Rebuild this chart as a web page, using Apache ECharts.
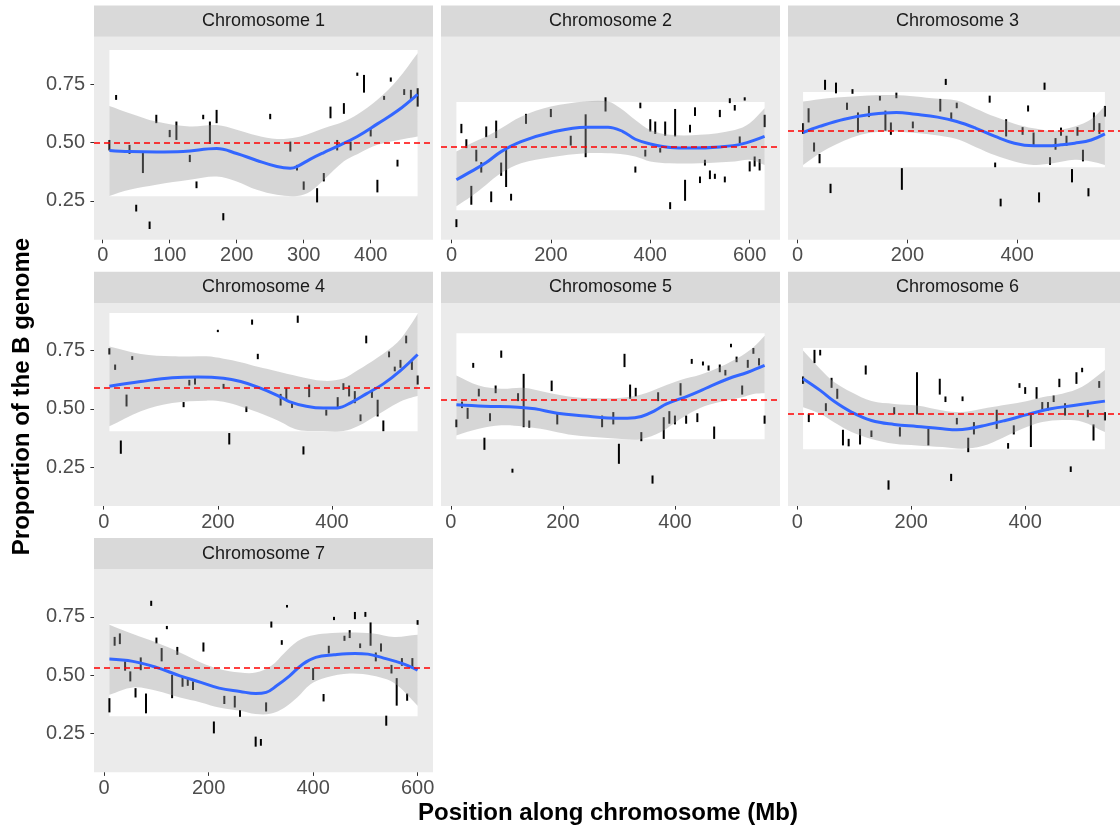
<!DOCTYPE html>
<html lang="en">
<head>
    <meta charset="UTF-8">
    <title>Proportion of the B genome</title>
    <script src="https://cdn.jsdelivr.net/npm/echarts@6.0.0/dist/echarts.min.js"></script>
    <style>html, body { margin: 0; padding: 0; background: #fff; }</style>
</head>
<body>
    <div id="chart" style="width: 1120px; height: 829px;"></div>
    <script>
        // panel titles and tick labels
        const panelNames = ['Chromosome 1', 'Chromosome 2', 'Chromosome 3', 'Chromosome 4',
                            'Chromosome 5', 'Chromosome 6', 'Chromosome 7'];
        const xTicks = [[0, 100, 200, 300, 400], [0, 200, 400, 600], [0, 200, 400],
                        [0, 200, 400], [0, 200, 400], [0, 200, 400], [0, 200, 400, 600]];
        const yTicks = [0.25, 0.5, 0.75];

        // genome-wide mean (red dashed line) and the white box per chromosome
        const genomeMean = [0.50, 0.476, 0.551, 0.59, 0.539, 0.481, 0.53];
        const boxLow  = [0.269, 0.209, 0.394, 0.404, 0.369, 0.327, 0.323];
        const boxHigh = [0.897, 0.674, 0.717, 0.911, 0.824, 0.761, 0.719];

        // windows: [position Mb, low, high]
        const seg1 = [[10,0.466,0.511],[20,0.683,0.704],[40,0.451,0.49],[50,0.204,0.233],[60,0.369,0.461],[70,0.129,0.161],[80,0.583,0.619],[100,0.523,0.554],[110,0.511,0.59],[130,0.416,0.447],[140,0.304,0.333],[150,0.6,0.619],[160,0.494,0.59],[170,0.583,0.64],[180,0.166,0.197],[250,0.6,0.623],[280,0.461,0.504],[290,0.38,0.404],[300,0.297,0.333],[320,0.243,0.304],[330,0.333,0.369],[340,0.604,0.654],[350,0.466,0.511],[360,0.623,0.669],[370,0.466,0.504],[380,0.786,0.8],[390,0.714,0.79],[400,0.526,0.557],[410,0.286,0.34],[420,0.683,0.7],[430,0.761,0.779],[440,0.397,0.426],[450,0.704,0.729],[460,0.686,0.726],[470,0.654,0.733]];
        const seg2 = [[10,0.137,0.171],[20,0.54,0.58],[30,0.476,0.514],[40,0.233,0.314],[50,0.419,0.469],[60,0.371,0.416],[70,0.523,0.569],[80,0.244,0.29],[90,0.519,0.594],[100,0.357,0.414],[110,0.309,0.469],[120,0.251,0.28],[150,0.58,0.623],[200,0.609,0.644],[240,0.487,0.529],[270,0.437,0.621],[310,0.633,0.694],[370,0.371,0.397],[380,0.647,0.671],[390,0.44,0.469],[400,0.547,0.6],[410,0.537,0.59],[420,0.457,0.476],[430,0.529,0.59],[440,0.214,0.244],[450,0.526,0.644],[470,0.25,0.34],[480,0.543,0.576],[490,0.614,0.651],[500,0.326,0.354],[510,0.401,0.426],[520,0.343,0.38],[530,0.344,0.366],[540,0.609,0.64],[550,0.329,0.354],[560,0.669,0.69],[570,0.637,0.661],[580,0.497,0.526],[590,0.68,0.694],[600,0.376,0.419],[610,0.397,0.44],[620,0.38,0.429],[630,0.566,0.619]];
        const seg3 = [[10,0.537,0.583],[20,0.586,0.647],[30,0.461,0.5],[40,0.411,0.451],[50,0.726,0.769],[60,0.283,0.323],[70,0.711,0.757],[90,0.64,0.671],[100,0.709,0.729],[110,0.543,0.629],[130,0.609,0.657],[150,0.68,0.7],[160,0.551,0.637],[170,0.533,0.586],[180,0.69,0.714],[190,0.297,0.39],[210,0.561,0.59],[260,0.633,0.687],[270,0.747,0.773],[280,0.594,0.629],[290,0.647,0.671],[350,0.671,0.701],[360,0.394,0.414],[370,0.226,0.259],[380,0.526,0.6],[410,0.533,0.566],[420,0.633,0.659],[430,0.483,0.543],[440,0.243,0.286],[450,0.726,0.757],[460,0.404,0.437],[470,0.469,0.519],[480,0.529,0.564],[490,0.486,0.529],[500,0.329,0.386],[510,0.529,0.566],[520,0.419,0.469],[530,0.269,0.304],[540,0.551,0.629],[550,0.537,0.583],[560,0.611,0.657]];
        const seg4 = [[10,0.733,0.76],[20,0.667,0.69],[30,0.307,0.364],[40,0.51,0.561],[50,0.71,0.726],[140,0.507,0.529],[150,0.6,0.624],[160,0.604,0.64],[200,0.829,0.839],[210,0.586,0.607],[220,0.347,0.396],[250,0.486,0.51],[260,0.861,0.883],[270,0.713,0.736],[310,0.514,0.564],[320,0.536,0.59],[330,0.504,0.524],[340,0.869,0.9],[350,0.304,0.339],[360,0.55,0.604],[390,0.471,0.496],[410,0.504,0.55],[420,0.581,0.61],[430,0.553,0.6],[440,0.524,0.576],[450,0.447,0.476],[460,0.781,0.814],[470,0.547,0.576],[480,0.467,0.539],[490,0.404,0.45],[500,0.721,0.746],[510,0.661,0.681],[520,0.676,0.71],[530,0.781,0.814],[540,0.667,0.704],[550,0.604,0.643]];
        const seg5 = [[10,0.421,0.454],[20,0.503,0.531],[30,0.457,0.504],[40,0.676,0.697],[50,0.553,0.586],[60,0.324,0.376],[70,0.447,0.481],[80,0.567,0.6],[90,0.719,0.75],[110,0.226,0.243],[120,0.533,0.567],[130,0.421,0.65],[140,0.419,0.45],[180,0.576,0.621],[190,0.433,0.486],[270,0.421,0.471],[290,0.433,0.486],[300,0.264,0.35],[310,0.679,0.736],[320,0.543,0.604],[330,0.553,0.59],[340,0.361,0.4],[360,0.179,0.214],[370,0.533,0.571],[380,0.371,0.464],[390,0.436,0.49],[400,0.433,0.471],[410,0.557,0.61],[420,0.436,0.471],[430,0.693,0.714],[440,0.443,0.481],[450,0.686,0.703],[460,0.664,0.686],[470,0.371,0.424],[480,0.657,0.69],[490,0.643,0.667],[500,0.764,0.779],[510,0.7,0.724],[520,0.561,0.6],[530,0.676,0.71],[540,0.736,0.761],[550,0.686,0.717],[560,0.436,0.471]];
        const seg6 = [[10,0.607,0.639],[20,0.443,0.479],[30,0.696,0.753],[40,0.729,0.753],[50,0.49,0.524],[60,0.59,0.633],[70,0.543,0.586],[80,0.343,0.41],[90,0.339,0.371],[110,0.347,0.414],[120,0.647,0.686],[130,0.379,0.407],[160,0.153,0.193],[170,0.476,0.507],[180,0.381,0.421],[210,0.476,0.657],[230,0.343,0.414],[250,0.561,0.629],[260,0.529,0.553],[270,0.19,0.221],[280,0.433,0.461],[290,0.533,0.553],[300,0.314,0.376],[310,0.39,0.443],[350,0.414,0.496],[370,0.329,0.353],[380,0.39,0.429],[390,0.59,0.61],[400,0.564,0.593],[410,0.336,0.481],[420,0.543,0.593],[430,0.496,0.529],[440,0.493,0.529],[450,0.529,0.557],[460,0.593,0.629],[470,0.471,0.524],[480,0.229,0.253],[490,0.607,0.657],[500,0.657,0.676],[510,0.464,0.496],[520,0.364,0.433],[530,0.59,0.619],[540,0.45,0.486]];
        const seg7 = [[10,0.34,0.401],[20,0.626,0.664],[30,0.633,0.679],[40,0.519,0.559],[50,0.473,0.516],[60,0.404,0.444],[70,0.521,0.576],[80,0.336,0.421],[90,0.797,0.819],[100,0.636,0.661],[110,0.559,0.616],[120,0.697,0.711],[130,0.401,0.501],[140,0.587,0.621],[150,0.45,0.493],[160,0.454,0.487],[170,0.436,0.473],[190,0.601,0.64],[210,0.25,0.301],[230,0.376,0.411],[250,0.361,0.411],[260,0.321,0.35],[290,0.193,0.236],[300,0.197,0.226],[310,0.344,0.383],[320,0.704,0.73],[340,0.63,0.65],[350,0.79,0.801],[400,0.479,0.53],[420,0.387,0.419],[430,0.593,0.626],[440,0.736,0.75],[460,0.647,0.669],[470,0.659,0.693],[480,0.74,0.771],[490,0.616,0.636],[500,0.75,0.771],[510,0.626,0.726],[520,0.559,0.597],[530,0.601,0.636],[540,0.283,0.326],[550,0.507,0.544],[560,0.369,0.487],[570,0.54,0.573],[580,0.39,0.421],[590,0.53,0.573],[600,0.716,0.736]];

        // loess fit: [position, fit]
        const fit1 = [[10,0.466],[40,0.461],[80,0.459],[120,0.461],[170,0.474],[200,0.453],[230,0.423],[260,0.397],[280,0.39],[290,0.397],[310,0.429],[330,0.457],[350,0.483],[380,0.526],[410,0.58],[440,0.636],[470,0.707]];
        const fit2 = [[10,0.34],[40,0.376],[70,0.414],[100,0.461],[140,0.504],[200,0.543],[270,0.566],[315,0.566],[345,0.547],[370,0.514],[400,0.494],[440,0.479],[480,0.476],[540,0.481],[585,0.494],[630,0.526]];
        const fit3 = [[10,0.543],[40,0.569],[85,0.6],[135,0.621],[180,0.629],[215,0.621],[255,0.609],[290,0.59],[325,0.561],[360,0.526],[395,0.497],[430,0.486],[455,0.486],[480,0.49],[505,0.497],[535,0.511],[560,0.537]];
        const fit4 = [[10,0.597],[65,0.617],[120,0.633],[165,0.636],[210,0.631],[240,0.617],[270,0.593],[305,0.557],[325,0.531],[355,0.511],[385,0.503],[410,0.504],[435,0.529],[460,0.564],[490,0.607],[520,0.664],[550,0.733]];
        const fit5 = [[10,0.517],[60,0.511],[120,0.507],[150,0.5],[190,0.481],[240,0.469],[280,0.461],[315,0.46],[340,0.467],[365,0.493],[385,0.521],[425,0.557],[460,0.593],[495,0.629],[530,0.657],[560,0.686]];
        const fit6 = [[10,0.629],[40,0.579],[65,0.531],[95,0.486],[130,0.45],[170,0.433],[210,0.424],[255,0.414],[280,0.41],[300,0.414],[330,0.429],[365,0.45],[405,0.476],[445,0.5],[485,0.514],[540,0.533]];
        const fit7 = [[10,0.569],[55,0.559],[100,0.533],[145,0.497],[185,0.469],[220,0.444],[260,0.43],[290,0.421],[310,0.426],[330,0.454],[355,0.497],[380,0.547],[405,0.576],[440,0.587],[480,0.593],[505,0.59],[535,0.573],[570,0.55],[600,0.521]];

        // confidence band: [position, lower, upper]
        const band1 = [[10,0.271,0.657],[40,0.297,0.626],[80,0.319,0.59],[130,0.34,0.569],[170,0.354,0.575],[200,0.333,0.555],[230,0.297,0.53],[260,0.276,0.515],[290,0.271,0.523],[310,0.29,0.54],[330,0.34,0.561],[360,0.42,0.59],[380,0.45,0.62],[410,0.49,0.683],[440,0.51,0.769],[470,0.526,0.883]];
        const band2 = [[10,0.226,0.461],[40,0.269,0.497],[70,0.319,0.526],[100,0.369,0.561],[140,0.411,0.611],[200,0.437,0.654],[270,0.454,0.676],[315,0.454,0.676],[340,0.451,0.647],[370,0.44,0.597],[400,0.419,0.554],[440,0.411,0.533],[500,0.411,0.533],[570,0.419,0.554],[600,0.426,0.583],[630,0.404,0.647]];
        const band3 = [[10,0.404,0.676],[55,0.474,0.69],[115,0.533,0.7],[165,0.547,0.704],[205,0.543,0.7],[245,0.533,0.69],[290,0.515,0.68],[325,0.48,0.645],[360,0.445,0.61],[395,0.419,0.581],[430,0.404,0.561],[465,0.411,0.551],[505,0.426,0.569],[535,0.419,0.6],[560,0.404,0.657]];
        const band4 = [[10,0.425,0.767],[65,0.49,0.735],[120,0.525,0.725],[180,0.535,0.725],[210,0.53,0.715],[240,0.51,0.7],[270,0.485,0.68],[305,0.45,0.66],[340,0.41,0.64],[385,0.405,0.62],[420,0.405,0.63],[445,0.425,0.665],[480,0.475,0.72],[515,0.525,0.786],[535,0.545,0.85],[550,0.555,0.907]];
        const band5 = [[10,0.386,0.643],[50,0.414,0.6],[90,0.429,0.586],[130,0.424,0.59],[170,0.41,0.571],[210,0.39,0.553],[255,0.379,0.546],[305,0.371,0.547],[340,0.371,0.561],[375,0.4,0.593],[410,0.457,0.624],[445,0.504,0.646],[480,0.529,0.679],[520,0.55,0.729],[540,0.564,0.764],[560,0.567,0.814]];
        const band6 = [[10,0.507,0.75],[40,0.479,0.671],[65,0.441,0.614],[95,0.401,0.571],[130,0.371,0.533],[170,0.35,0.521],[210,0.343,0.514],[255,0.336,0.493],[290,0.329,0.486],[325,0.34,0.5],[360,0.375,0.515],[395,0.414,0.529],[430,0.443,0.55],[465,0.452,0.565],[500,0.445,0.595],[540,0.4,0.667]];
        const band7 = [[10,0.416,0.716],[55,0.447,0.676],[100,0.433,0.64],[145,0.404,0.597],[185,0.383,0.554],[220,0.361,0.526],[260,0.347,0.511],[290,0.333,0.511],[320,0.335,0.54],[345,0.36,0.595],[370,0.405,0.645],[395,0.461,0.669],[425,0.49,0.679],[470,0.507,0.683],[515,0.497,0.679],[555,0.466,0.664],[600,0.369,0.673]];

        const segs = [seg1, seg2, seg3, seg4, seg5, seg6, seg7];
        const fits = [fit1, fit2, fit3, fit4, fit5, fit6, fit7];
        const bands = [band1, band2, band3, band4, band5, band6, band7];

        // layout (pixels)
        const FONT = '"Liberation Sans", Arial, sans-serif';
        const colLeft = [94, 441, 788];
        const rowTop = [36.7, 303, 569.3];
        const panelW = 339, panelH = 203, stripH = 31.2;
        const yMin = 0.083, yMax = 0.954;

        var myChart = echarts.init(document.getElementById('chart'), null, { renderer: 'canvas' });

        // white box
        function boxItem(params, api) {
            const a = api.coord([api.value(0), api.value(3)]);
            const b = api.coord([api.value(1), api.value(2)]);
            return {
                type: 'rect',
                shape: { x: a[0], y: a[1], width: b[0] - a[0], height: b[1] - a[1] },
                style: { fill: '#FFFFFF' }
            };
        }

        // vertical window segment
        function segItem(params, api) {
            const p0 = api.coord([api.value(0), api.value(1)]);
            const p1 = api.coord([api.value(0), api.value(2)]);
            return {
                type: 'line',
                shape: { x1: p0[0], y1: p0[1], x2: p1[0], y2: p1[1] },
                style: { stroke: '#000000', lineWidth: 2 }
            };
        }

        // confidence ribbon drawn as one smoothed polygon (corners doubled so the ends stay straight)
        function ribbonItem(params, api) {
            if (params.dataIndexInside !== 0) return null;
            const n = params.dataInsideLength;
            const up = [], lo = [];
            for (let k = 0; k < n; k++) {
                const x = api.value(0, k);
                up.push(api.coord([x, api.value(2, k)]));
                lo.push(api.coord([x, api.value(1, k)]));
            }
            lo.reverse();
            const pts = [up[0]].concat(up).concat([up[n - 1], lo[0]]).concat(lo).concat([lo[n - 1]]);
            return {
                type: 'polygon',
                shape: { points: pts, smooth: 0.35 },
                style: { fill: 'rgba(153,153,153,0.4)' }
            };
        }

        const grid = [], xAxis = [], yAxis = [], series = [], graphic = [];

        panelNames.forEach((name, i) => {
            const col = i % 3, row = Math.floor(i / 3);
            const left = colLeft[col], top = rowTop[row];
            const xs = segs[i].map(d => d[0]);
            const xLo = Math.min(...xs), xHi = Math.max(...xs);
            const pad = (xHi - xLo) * 0.05;

            grid.push({
                left: left, top: top, width: panelW, height: panelH,
                show: true, backgroundColor: '#EBEBEB', borderWidth: 0
            });

            xAxis.push({
                type: 'value', gridIndex: i, min: xLo - pad, max: xHi + pad,
                axisLine: { show: false, onZero: false },
                splitLine: { show: false },
                axisTick: { show: true, length: 3.6, customValues: xTicks[i], lineStyle: { color: '#333333', width: 1 } },
                axisLabel: {
                    customValues: xTicks[i], color: '#4D4D4D', fontSize: 20, fontFamily: FONT,
                    margin: 6, formatter: v => String(v)
                }
            });

            const showY = col === 0;
            yAxis.push({
                type: 'value', gridIndex: i, min: yMin, max: yMax,
                axisLine: { show: false, onZero: false },
                splitLine: { show: false },
                axisTick: { show: showY, length: 3.6, customValues: yTicks, lineStyle: { color: '#333333', width: 1 } },
                axisLabel: {
                    show: showY, customValues: yTicks, color: '#4D4D4D', fontSize: 20, fontFamily: FONT,
                    margin: 9, formatter: v => v.toFixed(2)
                }
            });

            series.push({
                type: 'custom', xAxisIndex: i, yAxisIndex: i, z: 1, silent: true,
                renderItem: boxItem, encode: { x: [0, 1], y: [2, 3] },
                data: [[xLo, xHi, boxLow[i], boxHigh[i]]]
            });
            series.push({
                type: 'custom', xAxisIndex: i, yAxisIndex: i, z: 2, silent: true,
                renderItem: segItem, encode: { x: 0, y: [1, 2] },
                data: segs[i]
            });
            series.push({
                type: 'custom', xAxisIndex: i, yAxisIndex: i, z: 3, silent: true,
                renderItem: ribbonItem, encode: { x: 0, y: [1, 2] },
                data: bands[i]
            });
            series.push({
                type: 'line', xAxisIndex: i, yAxisIndex: i, z: 4, silent: true,
                data: fits[i], smooth: 0.4, symbol: 'none',
                lineStyle: { color: '#3366FF', width: 3 },
                markLine: {
                    silent: true, symbol: ['none', 'none'], z: 5,
                    label: { show: false },
                    lineStyle: { color: '#FF0000', width: 1.5, type: [6, 4] },
                    data: [{ yAxis: genomeMean[i] }]
                }
            });

            // facet strip
            graphic.push({
                type: 'rect', left: left, top: top - stripH,
                shape: { width: panelW, height: stripH },
                style: { fill: '#D9D9D9' }, silent: true
            });
            graphic.push({
                type: 'text', x: left + panelW / 2, y: top - stripH / 2,
                style: {
                    text: name, fill: '#1A1A1A', fontSize: 18, fontFamily: FONT,
                    align: 'center', verticalAlign: 'middle'
                }, silent: true
            });
        });

        // axis titles
        graphic.push({
            type: 'text', x: 608, y: 813,
            style: {
                text: 'Position along chromosome (Mb)', fill: '#000000', fontSize: 24,
                fontWeight: 'bold', fontFamily: FONT, align: 'center', verticalAlign: 'middle'
            }, silent: true
        });
        graphic.push({
            type: 'text', x: 22, y: 396.5, rotation: Math.PI / 2,
            style: {
                text: 'Proportion of the B genome', fill: '#000000', fontSize: 24,
                fontWeight: 'bold', fontFamily: FONT, align: 'center', verticalAlign: 'middle'
            }, silent: true
        });

        const option = {
            animation: false,
            backgroundColor: '#FFFFFF',
            grid: grid,
            xAxis: xAxis,
            yAxis: yAxis,
            series: series,
            graphic: graphic
        };

        myChart.setOption(option);
    </script>
</body>
</html>
